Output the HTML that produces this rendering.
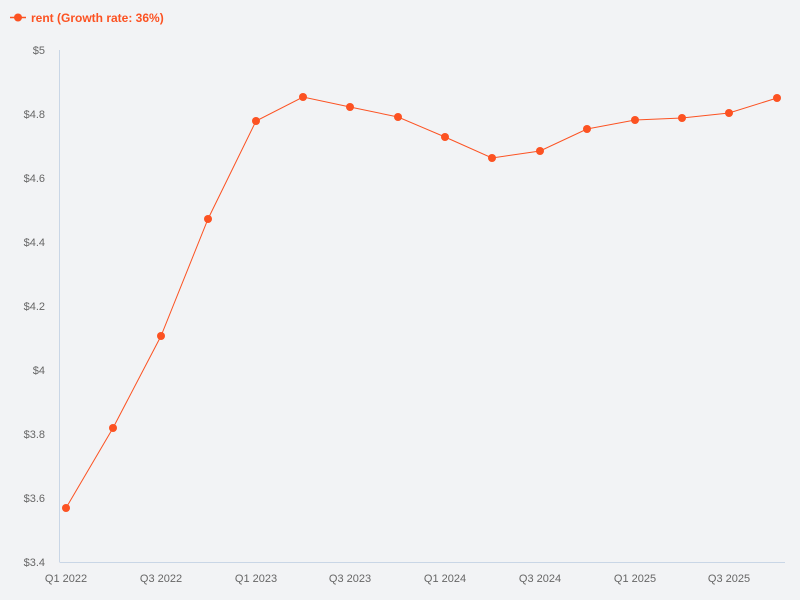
<!DOCTYPE html>
<html><head><style>
body{margin:0;background:#f2f3f5;}
svg{display:block;font-family:"Liberation Sans",sans-serif;}
</style></head><body>
<svg width="800" height="600" viewBox="0 0 800 600">
<rect width="800" height="600" fill="#f2f3f5"/>
<line x1="59.5" y1="50" x2="59.5" y2="562" stroke="#c9d6e6"/>
<line x1="59.5" y1="562.5" x2="785" y2="562.5" stroke="#c9d6e6"/>
<g font-size="11" fill="#666" text-anchor="end">
<text x="45" y="54">$5</text>
<text x="45" y="118">$4.8</text>
<text x="45" y="182">$4.6</text>
<text x="45" y="246">$4.4</text>
<text x="45" y="310">$4.2</text>
<text x="45" y="374">$4</text>
<text x="45" y="438">$3.8</text>
<text x="45" y="502">$3.6</text>
<text x="45" y="566">$3.4</text>
</g>
<g font-size="11" fill="#666" text-anchor="middle">
<text x="66" y="582">Q1 2022</text>
<text x="161" y="582">Q3 2022</text>
<text x="256" y="582">Q1 2023</text>
<text x="350" y="582">Q3 2023</text>
<text x="445" y="582">Q1 2024</text>
<text x="540" y="582">Q3 2024</text>
<text x="635" y="582">Q1 2025</text>
<text x="729" y="582">Q3 2025</text>
</g>
<polyline fill="none" stroke="#fc5222" stroke-width="1" points="66,508 113,428 161,336 208,219 256,121 303,97 350,107 398,117 445,137 492,158 540,151 587,129 635,120 682,118 729,113 777,98"/>
<g fill="#fc5222">
<circle cx="66" cy="508" r="4"/><circle cx="113" cy="428" r="4"/><circle cx="161" cy="336" r="4"/><circle cx="208" cy="219" r="4"/><circle cx="256" cy="121" r="4"/><circle cx="303" cy="97" r="4"/><circle cx="350" cy="107" r="4"/><circle cx="398" cy="117" r="4"/><circle cx="445" cy="137" r="4"/><circle cx="492" cy="158" r="4"/><circle cx="540" cy="151" r="4"/><circle cx="587" cy="129" r="4"/><circle cx="635" cy="120" r="4"/><circle cx="682" cy="118" r="4"/><circle cx="729" cy="113" r="4"/><circle cx="777" cy="98" r="4"/>
</g>
<line x1="10" y1="17.5" x2="26" y2="17.5" stroke="#fc5222" stroke-width="1.5"/>
<circle cx="18" cy="17.5" r="4" fill="#fc5222"/>
<text x="31" y="22" font-size="12" font-weight="bold" fill="#fc5222">rent (Growth rate: 36%)</text>
</svg>
</body></html>
